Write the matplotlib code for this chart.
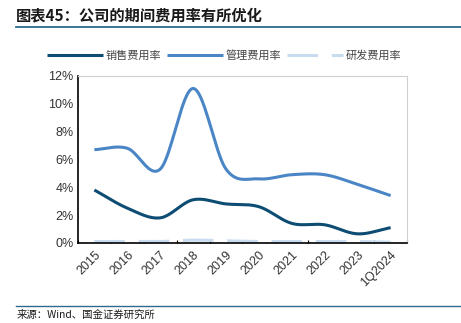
import numpy as np
import matplotlib.pyplot as plt

plt.rcParams['font.family'] = ['Noto Sans CJK SC', 'DejaVu Sans']

# 数据
years = ['2015', '2016', '2017', '2018', '2019', '2020', '2021', '2022', '2023', '1Q2024']
sales_rate = [3.8, 2.5, 1.8, 3.1, 2.8, 2.6, 1.4, 1.3, 0.65, 1.1]
admin_rate = [6.7, 6.8, 5.3, 11.1, 5.3, 4.6, 4.9, 4.9, 4.2, 3.4]
rd_rate = [0.1, 0.1, 0.1, 0.2, 0.15, 0.1, 0.1, 0.1, 0.1, 0.05]

names = ['销售费用率', '管理费用率', '研发费用率']
colors = ['#0d4c73', '#4a86c6', '#c9dcef']


def smooth(y, n=20):
    """Catmull-Rom 平滑曲线"""
    y = np.asarray(y, dtype=float)
    x = np.arange(len(y), dtype=float)
    p = np.concatenate([[2 * y[0] - y[1]], y, [2 * y[-1] - y[-2]]])
    xs, ys = [], []
    for i in range(len(y) - 1):
        p0, p1, p2, p3 = p[i], p[i + 1], p[i + 2], p[i + 3]
        t = np.linspace(0, 1, n, endpoint=False)
        v = 0.5 * ((2 * p1) + (-p0 + p2) * t + (2 * p0 - 5 * p1 + 4 * p2 - p3) * t ** 2
                   + (-p0 + 3 * p1 - 3 * p2 + p3) * t ** 3)
        xs.append(x[i] + t)
        ys.append(v)
    xs.append([x[-1]])
    ys.append([y[-1]])
    return np.concatenate(xs), np.concatenate(ys)


fig = plt.figure(figsize=(4.61, 3.23), dpi=100)
ax = fig.add_axes([0.169, 0.248, 0.714, 0.517])

for vals, name, c in zip([sales_rate, admin_rate, rd_rate], names, colors):
    sx, sy = smooth(vals)
    ls = (0, (10, 4.5)) if name == '研发费用率' else '-'
    ax.plot(sx, sy, color=c, linewidth=2.2, linestyle=ls, label=name,
            solid_capstyle='butt')

ax.set_xlim(-0.5, len(years) - 0.5)
ax.set_ylim(0, 12)
ax.set_yticks(range(0, 13, 2))
ax.set_yticklabels([f'{v}%' for v in range(0, 13, 2)], family='Liberation Sans',
                   fontsize=9, color='#333333')
ax.set_xticks(range(len(years)))
ax.set_xticklabels(years, rotation=45, ha='right', va='top', rotation_mode='anchor',
                   family='Liberation Sans', fontsize=9, color='#333333')
ax.tick_params(axis='x', length=0, pad=4)
ax.set_xticks(np.arange(-0.5, len(years), 1), minor=True)
ax.tick_params(axis='x', which='minor', direction='in', length=2, width=0.8)
ax.tick_params(axis='y', length=0, pad=3)

for s in ['top', 'right']:
    ax.spines[s].set_color('#d0d0d0')
    ax.spines[s].set_linewidth(0.8)
for s in ['left', 'bottom']:
    ax.spines[s].set_color('black')
    ax.spines[s].set_linewidth(1.2)

ax.legend(loc='lower center', bbox_to_anchor=(0.445, 1.03), ncol=3, frameon=False,
          fontsize=8, handlelength=5, columnspacing=0.5, handletextpad=0.3,
          labelcolor='#444444')

# 标题与来源
fig.text(0.035, 0.953, '图表45：公司的期间费用率有所优化', fontsize=11, fontweight='bold',
         color='#1a1a1a', va='center')
fig.add_artist(plt.Line2D([0.035, 1.0], [0.916, 0.916], color='#2e6a8e', linewidth=1.3))
fig.add_artist(plt.Line2D([0.035, 1.0], [0.053, 0.053], color='#2e6a8e', linewidth=1.0))
fig.text(0.035, 0.027, '来源：Wind、国金证券研究所', fontsize=7.5, color='#1a1a1a', va='center')

fig.savefig('out.png', dpi=100)
